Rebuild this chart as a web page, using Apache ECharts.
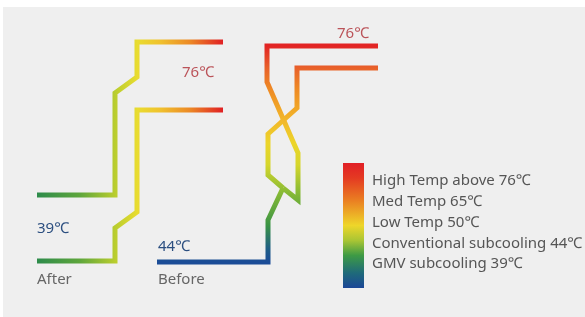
<!DOCTYPE html>
<html>
<head>
<meta charset="utf-8">
<script src="https://cdn.jsdelivr.net/npm/echarts@6/dist/echarts.min.js"></script>
<style>
  html, body { margin: 0; padding: 0; background: #fff; }
  #chart { width: 585px; height: 317px; }
</style>
</head>
<body>
<div id="chart"></div>
<script>
// pipe paths, in the diagram's own coordinate space (0..585 x 0..317)
const afterUpper = [[37, 195], [115, 195], [115, 93], [137, 77], [137, 42], [223, 42]];
const afterLower = [[37, 261], [115, 261], [115, 228], [137, 212], [137, 110], [223, 110]];
const beforeTrunk = [[157, 262], [268, 262], [268, 220], [283, 188]];
const beforeMed = [[283, 188], [268, 175], [268, 134], [297, 108], [297, 68], [378, 68]];
const beforeHigh = [[283, 188], [298, 200], [298, 153], [267, 82], [267, 46], [378, 46]];

// legend
const legendLabels = [
  'High Temp above 76℃',
  'Med Temp 65℃',
  'Low Temp 50℃',
  'Conventional subcooling 44℃',
  'GMV subcooling 39℃'
];
const tempLabels = ['76℃', '76℃', '39℃', '44℃'];
const sideLabels = ['After', 'Before'];

const FONT = "'Noto Sans', 'Noto Sans CJK SC', sans-serif";

// colour ramps
const afterGrad = new echarts.graphic.LinearGradient(37, 0, 223, 0, [
  { offset: 0, color: '#2d8b4b' },
  { offset: 0.23, color: '#5ea63c' },
  { offset: 0.42, color: '#b9cd2e' },
  { offset: 0.54, color: '#e9dc30' },
  { offset: 0.66, color: '#f0c22e' },
  { offset: 0.82, color: '#ec8a26' },
  { offset: 1, color: '#e02024' }
], true);

const beforeGrad = new echarts.graphic.LinearGradient(0, 262, 0, 46, [
  { offset: 0, color: '#1b4c97' },
  { offset: 0.06, color: '#1f5d86' },
  { offset: 0.17, color: '#3a9444' },
  { offset: 0.33, color: '#8cbc34' },
  { offset: 0.45, color: '#d6d62c' },
  { offset: 0.55, color: '#ecd52a' },
  { offset: 0.66, color: '#f2b62a' },
  { offset: 0.8, color: '#ee8a24' },
  { offset: 0.9, color: '#e8602a' },
  { offset: 1, color: '#e22424' }
], true);

const legendGrad = new echarts.graphic.LinearGradient(0, 0, 0, 1, [
  { offset: 0, color: '#e11f26' },
  { offset: 0.12, color: '#e43a22' },
  { offset: 0.3, color: '#ea7f22' },
  { offset: 0.5, color: '#eed62a' },
  { offset: 0.62, color: '#a9c534' },
  { offset: 0.74, color: '#3d9a45' },
  { offset: 0.88, color: '#1f6a7a' },
  { offset: 1, color: '#1b4797' }
]);

function pipe(data, color) {
  return {
    type: 'line',
    data: data,
    showSymbol: false,
    silent: true,
    animation: false,
    lineStyle: { width: 5, color: color, join: 'miter', cap: 'butt' }
  };
}

function txt(x, y, text, color, size) {
  return {
    type: 'text',
    x: x,
    y: y,
    z: 10,
    style: {
      text: text,
      fill: color,
      font: (size || 15) + 'px ' + FONT,
      verticalAlign: 'middle'
    }
  };
}

const chart = echarts.init(document.getElementById('chart'));

const graphics = [
  // grey panel
  { type: 'rect', z: -10, shape: { x: 3, y: 7, width: 582, height: 310 }, style: { fill: '#efefef' } },
  // legend colour bar
  { type: 'rect', z: 5, shape: { x: 343, y: 163, width: 21, height: 125 }, style: { fill: legendGrad } },
  txt(182, 73, tempLabels[0], '#bb5359'),
  txt(337, 34, tempLabels[1], '#bb5359'),
  txt(37, 229, tempLabels[2], '#2c4f80'),
  txt(158, 247, tempLabels[3], '#2c4f80'),
  txt(37, 280, sideLabels[0], '#666'),
  txt(158, 280, sideLabels[1], '#666')
];
legendLabels.forEach((t, i) => {
  graphics.push(txt(372, 181 + i * 20.8, t, '#555'));
});

chart.setOption({
  backgroundColor: '#fff',
  animation: false,
  grid: { left: 0, right: 0, top: 0, bottom: 0 },
  xAxis: { type: 'value', min: 0, max: 585, show: false },
  yAxis: { type: 'value', min: 0, max: 317, inverse: true, show: false },
  graphic: graphics,
  series: [
    pipe(afterUpper, afterGrad),
    pipe(afterLower, afterGrad),
    pipe(beforeTrunk, beforeGrad),
    pipe(beforeMed, beforeGrad),
    pipe(beforeHigh, beforeGrad)
  ]
});
</script>
</body>
</html>
